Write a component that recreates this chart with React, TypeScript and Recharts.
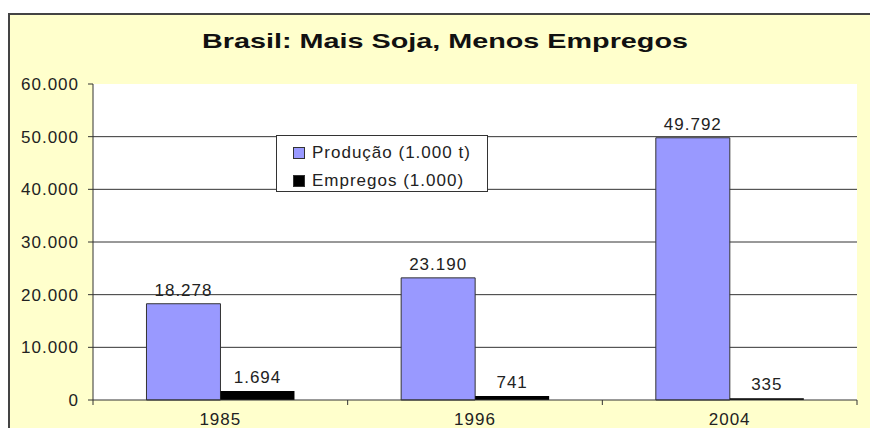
import { Bar, BarChart, CartesianGrid, LabelList, Legend, XAxis, YAxis } from "recharts";

const YEARS = ["1985", "1996", "2004"];
const PRODUCAO = [18278, 23190, 49792];
const EMPREGOS = [1694, 741, 335];
const Y_TICKS = [0, 10000, 20000, 30000, 40000, 50000, 60000];
const GRID_VALUES = [10000, 20000, 30000, 40000, 50000];

const SERIES_PRODUCAO = "Produção (1.000 t)";
const SERIES_EMPREGOS = "Empregos (1.000)";
const SERIES_ORDER = [SERIES_PRODUCAO, SERIES_EMPREGOS];
const TITLE = "Brasil: Mais Soja, Menos Empregos";

const data = YEARS.map((year, i) => ({
  year,
  producao: PRODUCAO[i],
  empregos: EMPREGOS[i],
}));

const FONT = '"Liberation Sans", Arial, sans-serif';
const INK = "#222";
const LINE = "#333";
const TICK_SIZE = 5;
const TICK_MARGIN = 8;

// 60000 -> "60.000"
const fmt = (v: number | string) => String(v).replace(/\B(?=(\d{3})+(?!\d))/g, ".");

function YearTick(props: any) {
  const { x, y, payload, index } = props;
  const half = payload?.offset ?? 127;
  const axisY = y - TICK_SIZE - TICK_MARGIN;
  return (
    <g>
      {index === 0 && (
        <line x1={x - half} x2={x - half} y1={axisY} y2={axisY + TICK_SIZE} stroke={LINE} />
      )}
      <line x1={x + half} x2={x + half} y1={axisY} y2={axisY + TICK_SIZE} stroke={LINE} />
      <text x={x} y={y} dy="0.71em" textAnchor="middle" fill={INK} fontSize={17}>
        {payload.value}
      </text>
    </g>
  );
}

function LegendBox({ payload }: any) {
  const items = [...(payload || [])].sort(
    (a: any, b: any) => SERIES_ORDER.indexOf(a.value) - SERIES_ORDER.indexOf(b.value),
  );
  return (
    <div
      style={{
        width: 212,
        height: 57,
        boxSizing: "border-box",
        border: `1px solid ${LINE}`,
        background: "#fff",
        padding: "3px 0 0 16px",
        fontFamily: FONT,
        fontSize: 17,
        color: INK,
      }}
    >
      {items.map((entry: any) => (
        <div key={entry.value} style={{ display: "flex", alignItems: "center", height: 28 }}>
          <span
            style={{
              width: 10,
              height: 10,
              background: entry.color,
              border: `1px solid ${LINE}`,
              marginRight: 7,
              flex: "none",
            }}
          />
          <span>{entry.value}</span>
        </div>
      ))}
    </div>
  );
}

export default function App() {
  return (
    <div
      style={{
        position: "absolute",
        left: 0,
        top: 0,
        width: 870,
        height: 428,
        overflow: "hidden",
        background: "#fff",
        fontFamily: FONT,
        letterSpacing: "1px",
      }}
    >
      <div
        style={{
          position: "absolute",
          left: 8,
          top: 13,
          width: 900,
          height: 440,
          background: "#FFFFCC",
          borderTop: "2px solid #444",
          borderLeft: "2px solid #444",
        }}
      />
      <div
        style={{
          position: "absolute",
          left: 445,
          top: 29,
          transform: "translateX(-50%) scaleX(1.37)",
          whiteSpace: "nowrap",
          fontSize: 21,
          fontWeight: "bold",
          color: "#111",
          letterSpacing: 0,
        }}
      >
        {TITLE}
      </div>
      <div style={{ position: "absolute", left: 0, top: 0 }}>
        <BarChart
          width={870}
          height={428}
          data={data}
          margin={{ top: 84, right: 13, bottom: 0, left: 0 }}
          barCategoryGap="21%"
          barGap={0}
        >
          <CartesianGrid
            vertical={false}
            horizontalValues={GRID_VALUES}
            stroke={LINE}
            fill="#fff"
          />
          <XAxis
            dataKey="year"
            height={28}
            axisLine={{ stroke: LINE }}
            tickLine={false}
            tickSize={TICK_SIZE}
            tickMargin={TICK_MARGIN}
            tick={<YearTick />}
            interval={0}
          />
          <YAxis
            width={93}
            domain={[0, 60000]}
            ticks={Y_TICKS}
            interval={0}
            tickFormatter={fmt}
            axisLine={{ stroke: LINE }}
            tickLine={{ stroke: LINE }}
            tickSize={5}
            tickMargin={9}
            tick={{ fill: INK, fontSize: 17 }}
          />
          <Legend
            layout="vertical"
            align="center"
            verticalAlign="middle"
            wrapperStyle={{ left: 276, top: 135, width: 212 }}
            content={<LegendBox />}
          />
          <Bar
            dataKey="producao"
            name={SERIES_PRODUCAO}
            fill="#9999FF"
            stroke={LINE}
            strokeWidth={1}
            isAnimationActive={false}
          >
            <LabelList dataKey="producao" position="top" offset={8} formatter={fmt} fill={INK} fontSize={17} />
          </Bar>
          <Bar dataKey="empregos" name={SERIES_EMPREGOS} fill="#000" isAnimationActive={false}>
            <LabelList dataKey="empregos" position="top" offset={8} formatter={fmt} fill={INK} fontSize={17} />
          </Bar>
        </BarChart>
      </div>
    </div>
  );
}
